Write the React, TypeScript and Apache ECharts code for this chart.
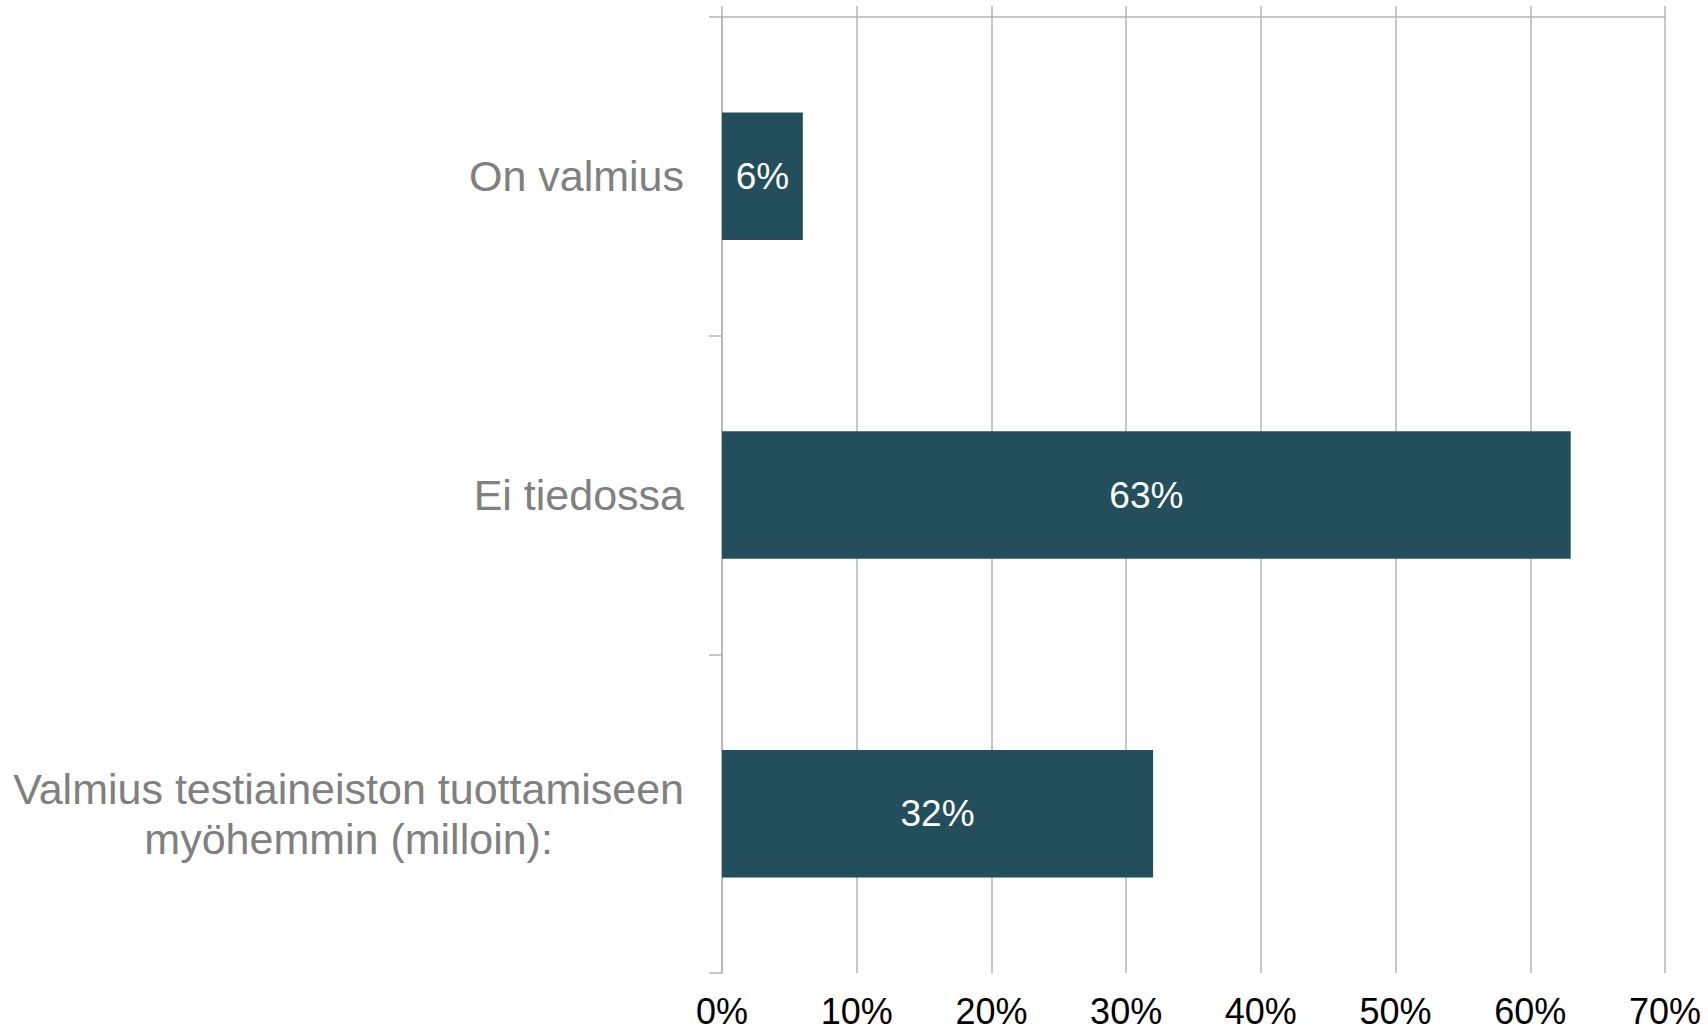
import React, { useEffect, useRef } from "react";
import * as echarts from "echarts";

const categories = [
  "On valmius",
  "Ei tiedossa",
  "Valmius testiaineiston tuottamiseen\nmyöhemmin (milloin):",
];
const values = [6, 63, 32];
const axisMin = 0;
const axisMax = 70;
const axisStep = 10;

const FONT = "'Liberation Sans', Arial, sans-serif";
const GRID_COLOR = "#b4b4b4";
const BAR_COLOR = "#234e5b";

export default function App() {
  const ref = useRef<HTMLDivElement>(null);

  useEffect(() => {
    if (!ref.current) return;
    const chart = echarts.init(ref.current, undefined, { renderer: "svg" });
    chart.setOption({
      animation: false,
      backgroundColor: "#ffffff",
      grid: { left: 722, right: 43, top: 17, bottom: 61, containLabel: false },
      xAxis: [
        {
          type: "value",
          position: "top",
          min: axisMin,
          max: axisMax,
          interval: axisStep,
          axisLine: { show: true, lineStyle: { color: GRID_COLOR, width: 1.5 } },
          axisTick: { show: true, inside: false, length: 11, lineStyle: { color: GRID_COLOR, width: 1.5 } },
          axisLabel: { show: false },
          splitLine: { show: true, lineStyle: { color: GRID_COLOR, width: 1.5 } },
        },
        {
          type: "value",
          position: "bottom",
          min: axisMin,
          max: axisMax,
          interval: axisStep,
          axisLine: { show: false },
          axisTick: { show: false },
          splitLine: { show: false },
          axisLabel: {
            show: true,
            formatter: "{value}%",
            fontSize: 36,
            lineHeight: 36,
            color: "#000000",
            fontFamily: FONT,
            margin: 20,
          },
        },
      ],
      yAxis: {
        type: "category",
        inverse: true,
        data: categories,
        axisLine: { show: true, lineStyle: { color: GRID_COLOR, width: 1.5 } },
        axisTick: { show: true, length: 13, alignWithLabel: false, lineStyle: { color: GRID_COLOR, width: 1.5 } },
        splitLine: { show: false },
        axisLabel: {
          interval: 0,
          margin: 38,
          fontSize: 43,
          color: "#808080",
          fontFamily: FONT,
          formatter: (v: string) =>
            v
              .split("\n")
              .map((l) => "{c|" + l + "}")
              .join("\n"),
          rich: {
            c: {
              align: "center",
              fontSize: 43,
              lineHeight: 50,
              color: "#808080",
              fontFamily: FONT,
            },
          },
        },
      },
      series: [
        {
          type: "bar",
          xAxisIndex: 0,
          data: values,
          barWidth: "40%",
          itemStyle: { color: BAR_COLOR },
          label: {
            show: true,
            position: "inside",
            formatter: "{c}%",
            color: "#ffffff",
            fontSize: 37,
            fontFamily: FONT,
          },
        },
      ],
    });
    return () => chart.dispose();
  }, []);

  return (
    <div
      ref={ref}
      style={{ position: "fixed", left: 0, top: 0, width: 1708, height: 1034, background: "#fff" }}
    />
  );
}
